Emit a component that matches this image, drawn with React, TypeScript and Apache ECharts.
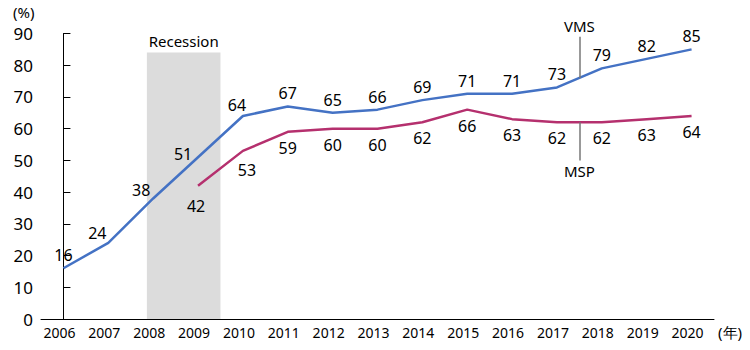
import React, { useEffect, useRef } from "react";
import * as echarts from "echarts";

const years = ["2006", "2007", "2008", "2009", "2010", "2011", "2012", "2013", "2014", "2015", "2016", "2017", "2018", "2019", "2020"];
const vms = [16, 24, 38, 51, 64, 67, 65, 66, 69, 71, 71, 73, 79, 82, 85];
const msp = [null, null, null, 42, 53, 59, 60, 60, 62, 66, 63, 62, 62, 63, 64];
const yTicks = [0, 10, 20, 30, 40, 50, 60, 70, 80, 90];
const recessionRange = [1.86, 3.5];
const recessionTop = 84;
const vmsCallout = [11.5, 76, 89];
const mspCallout = [11.5, 62, 50];

const vmsOffsets: Record<number, number[]> = { 1: [-11, 3], 2: [-12, 5], 3: [-15, 10], 4: [-6, 2] };
const mspOffsets: Record<number, number[]> = { 3: [-2, 4], 4: [4, 3] };

const FONT = "'Noto Sans', sans-serif";

export default function App() {
  const ref = useRef<HTMLDivElement>(null);
  useEffect(() => {
    if (!ref.current) return;
    const chart = echarts.init(ref.current, undefined, { renderer: "svg" });
    const labelStyle = { color: "#000", fontSize: 16, fontFamily: FONT };
    const mkData = (arr: (number | null)[], offsets: Record<number, number[]>) =>
      arr.map((v, i) => {
        const item: any = { value: v === null ? "-" : v };
        if (offsets[i]) item.label = { offset: offsets[i] };
        return item;
      });
    chart.setOption({
      animation: false,
      textStyle: { fontFamily: FONT },
      title: {
        text: "(%)",
        left: 13,
        top: 4,
        padding: 0,
        textStyle: { color: "#000", fontSize: 15, lineHeight: 15, fontWeight: "normal", fontFamily: FONT },
      },
      grid: { left: 41, right: 36, top: 33.5, bottom: 31 },
      xAxis: [
        {
          type: "category",
          data: years,
          boundaryGap: true,
          axisLine: { lineStyle: { color: "#000", width: 1 } },
          axisTick: { inside: true, length: 8, lineStyle: { color: "#000" } },
          axisLabel: { color: "#000", fontSize: 14, fontFamily: FONT, margin: 6, interval: 0, padding: [0, 8, 0, 0] },
          name: "(年)",
          nameLocation: "end",
          nameGap: 4,
          nameTextStyle: { color: "#000", fontSize: 15, fontFamily: FONT, verticalAlign: "top", align: "left", padding: [5, 0, 0, 0] },
        },
        { type: "value", min: -0.5, max: 14.5, show: false },
      ],
      yAxis: {
        type: "value",
        min: 0,
        max: 90,
        interval: 10,
        axisLine: { show: true, lineStyle: { color: "#000", width: 1 } },
        axisTick: { show: true, inside: true, length: 7, lineStyle: { color: "#000" } },
        splitLine: { show: false },
        axisLabel: { color: "#000", fontSize: 17, lineHeight: 15, fontFamily: FONT, margin: 8, formatter: (v: number) => (yTicks.includes(v) ? String(v) : "") },
      },
      series: [
        {
          type: "line",
          xAxisIndex: 1,
          data: [],
          silent: true,
          markArea: {
            silent: true,
            itemStyle: { color: "#dcdcdc" },
            label: { show: true, position: "top", distance: 4, color: "#000", fontSize: 15, fontFamily: FONT },
            data: [[{ name: "Recession", coord: [recessionRange[0], 0] }, { coord: [recessionRange[1], recessionTop] }]],
          },
          markLine: {
            silent: true,
            symbol: "none",
            lineStyle: { color: "#777", width: 1.5, type: "solid" },
            label: { show: true, position: "end", distance: 3, color: "#000", fontSize: 15, fontFamily: FONT },
            data: [
              [{ name: "VMS", coord: [vmsCallout[0], vmsCallout[1]] }, { coord: [vmsCallout[0], vmsCallout[2]] }],
              [{ name: "MSP", coord: [mspCallout[0], mspCallout[1]] }, { coord: [mspCallout[0], mspCallout[2]] }],
            ],
          },
        },
        {
          name: "VMS",
          type: "line",
          data: mkData(vms, vmsOffsets),
          symbol: "circle",
          symbolSize: 0,
          showSymbol: true,
          lineStyle: { color: "#4472C4", width: 2.5 },
          itemStyle: { color: "#4472C4" },
          label: { show: true, position: "top", distance: 5, ...labelStyle },
          z: 3,
        },
        {
          name: "MSP",
          type: "line",
          data: mkData(msp, mspOffsets),
          symbol: "circle",
          symbolSize: 0,
          showSymbol: true,
          lineStyle: { color: "#B5306E", width: 2.5 },
          itemStyle: { color: "#B5306E" },
          label: { show: true, position: "bottom", distance: 8, ...labelStyle },
          z: 3,
        },
      ],
    });
    return () => chart.dispose();
  }, []);
  return <div ref={ref} style={{ width: 750, height: 350, position: "absolute", left: 0, top: 0 }} />;
}
